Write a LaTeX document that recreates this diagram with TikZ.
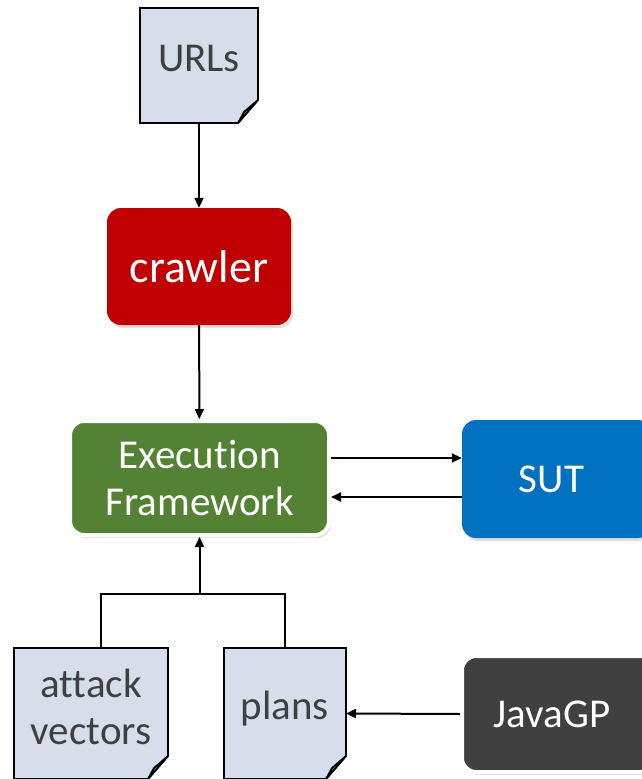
\documentclass[tikz,border=0pt]{standalone}
\usepackage{fontspec}
\setmainfont{Carlito}[Ligatures=NoCommon]
\usetikzlibrary{arrows.meta,shadows,backgrounds}
\definecolor{crawlred}{HTML}{C00000}
\definecolor{efgreen}{HTML}{548235}
\definecolor{sutblue}{HTML}{0070C0}
\definecolor{javagray}{HTML}{404040}
\definecolor{docfill}{HTML}{D6DEEC}
\definecolor{foldfill}{HTML}{A6A6A6}
\definecolor{doctext}{HTML}{404040}
\newcommand\docoutline[1]{%
  \begin{scope}[on background layer]
    \draw[docline,fill=docfill] (#1.north west) -- (#1.north east) -- ([yshift=23pt]#1.south east) -- ([xshift=-20pt]#1.south east) -- (#1.south west) -- cycle;
    \draw[docline,fill=foldfill,line join=round] ([yshift=23pt]#1.south east) -- ([xshift=-14pt,yshift=11pt]#1.south east) -- ([xshift=-20pt]#1.south east) -- cycle;
  \end{scope}}
\begin{document}
\begin{tikzpicture}[x=1pt,y=-1pt,
  docline/.style={draw=black,line width=1.8pt},
  docnode/.style={inner sep=0pt,outer sep=0pt},
  doclabel/.style={inner sep=0pt,align=center,text=doctext,font=\fontsize{41}{47}\selectfont},
  box/.style={rounded corners=14pt,inner sep=0pt,align=center,text=white,font=\fontsize{41}{47}\selectfont,
    drop shadow={shadow xshift=2pt,shadow yshift=-3pt,opacity=0.25}},
  arr/.style={line width=2pt,-{Triangle[length=10pt,width=9pt]}},
  conn/.style={line width=2pt}]
\useasboundingbox (0,0) rectangle (641,779);

\node[docnode,minimum width=118pt,minimum height=115pt] (urls) at (199,65.5) {};
\docoutline{urls}
\node[doclabel] (urlstext) at (199,58) {URLs};

\node[box,fill=crawlred,minimum width=184pt,minimum height=117pt,font=\fontsize{46}{52}\selectfont] (crawler) at (199,266.5) {crawler};

\node[box,fill=efgreen,draw=white,line width=4pt,minimum width=259pt,minimum height=114pt] (ef) at (199.5,478) {Execution\\Framework};

\node[box,fill=sutblue,minimum width=190pt,minimum height=118pt] (sut) at (557,479) {\hspace*{-11pt}SUT};

\node[box,fill=javagray,draw=white,line width=4pt,minimum width=192pt,minimum height=116pt] (java) at (558,714) {\hspace*{-12pt}JavaGP};

\node[docnode,minimum width=154pt,minimum height=131pt] (av) at (91,713.5) {};
\docoutline{av}
\node[doclabel] (avtext) at (91,707) {attack\\vectors};

\node[docnode,minimum width=122pt,minimum height=131pt] (plans) at (285,713.5) {};
\docoutline{plans}
\node[doclabel] (planstext) at (285,709) {plans};

\draw[arr] (urls) -- (crawler);
\draw[arr] (crawler) -- (ef);
\draw[arr] ([yshift=20pt]ef.east) -- ([yshift=20pt]ef.east -| sut.west);
\draw[arr] ([yshift=-19pt]ef.east -| sut.west) -- ([yshift=-19pt]ef.east);

\coordinate (jn) at (ef.south |- 0,594);
\draw[conn] ([xshift=10pt]av.north) |- (jn);
\draw[conn] (plans.north) |- (jn);
\draw[arr] (jn) -- (ef.south);

\draw[arr] (java.west) -- (plans.east);
\end{tikzpicture}
\end{document}
